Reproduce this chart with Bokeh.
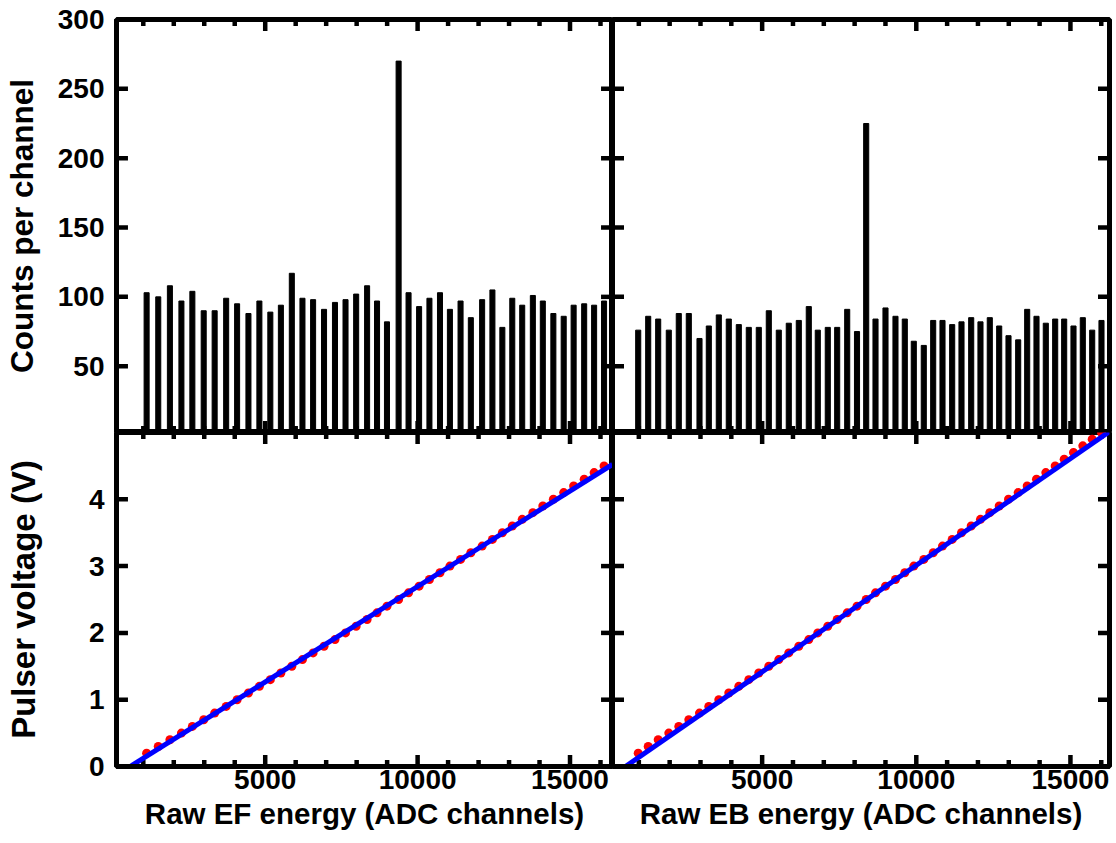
from bokeh.plotting import figure
from bokeh.models import SingleIntervalTicker, FixedTicker, Range1d
from bokeh.layouts import gridplot
from bokeh.embed import file_html
from bokeh.resources import INLINE

# ---------------- data ----------------
ef_channels = [1109, 1491, 1873, 2251, 2610, 2982, 3341, 3719, 4078, 4450,
               4809, 5168, 5514, 5873, 6222, 6571, 6930, 7289, 7635, 7984,
               8343, 8669, 8995, 9377, 9703, 10049, 10388, 10734, 11060, 11409,
               11746, 12117, 12454, 12780, 13106, 13432, 13781, 14108, 14454, 14793,
               15119, 15465, 15791, 16117]
ef_counts = [103, 100, 108, 97, 104, 90, 90, 99, 95, 88,
             97, 89, 94, 117, 99, 98, 91, 96, 98, 102,
             108, 97, 82, 270, 103, 93, 99, 103, 91, 97,
             85, 98, 105, 78, 99, 94, 101, 97, 88, 86,
             94, 95, 94, 97]
ef_voltage = [0.2, 0.3, 0.4, 0.5, 0.6, 0.7, 0.8, 0.9, 1.0, 1.1,
              1.2, 1.3, 1.4, 1.5, 1.6, 1.7, 1.8, 1.9, 2.0, 2.1,
              2.2, 2.3, 2.4, 2.5, 2.6, 2.7, 2.8, 2.9, 3.0, 3.1,
              3.2, 3.3, 3.4, 3.5, 3.6, 3.7, 3.8, 3.9, 4.0, 4.1,
              4.2, 4.3, 4.4, 4.5]

eb_channels = [980, 1304, 1628, 1972, 2296, 2621, 2968, 3270, 3594, 3918,
               4243, 4567, 4891, 5216, 5540, 5864, 6189, 6513, 6805, 7129,
               7434, 7759, 8077, 8375, 8677, 9001, 9325, 9627, 9919, 10243,
               10548, 10850, 11164, 11466, 11781, 12082, 12384, 12689, 12991, 13305,
               13597, 13899, 14201, 14505, 14797, 15099, 15401, 15706, 16007]
eb_counts = [76, 86, 84, 76, 88, 88, 70, 79, 87, 84,
             80, 78, 78, 90, 76, 81, 83, 93, 76, 78,
             78, 91, 75, 225, 84, 92, 86, 84, 68, 65,
             83, 83, 80, 82, 85, 82, 85, 79, 72, 69,
             91, 86, 81, 84, 84, 79, 85, 76, 83]
eb_voltage = [0.2, 0.3, 0.4, 0.5, 0.6, 0.7, 0.8, 0.9, 1.0, 1.1,
              1.2, 1.3, 1.4, 1.5, 1.6, 1.7, 1.8, 1.9, 2.0, 2.1,
              2.2, 2.3, 2.4, 2.5, 2.6, 2.7, 2.8, 2.9, 3.0, 3.1,
              3.2, 3.3, 3.4, 3.5, 3.6, 3.7, 3.8, 3.9, 4.0, 4.1,
              4.2, 4.3, 4.4, 4.5, 4.6, 4.7, 4.8, 4.9, 5.0]

# linear calibration fits (slope V/channel, intercept V)
ef_fit = (2.857e-4, -0.1623)
eb_fit = (3.194e-4, -0.1814)

x_label_ef = "Raw EF energy (ADC channels)"
x_label_eb = "Raw EB energy (ADC channels)"
y_label_top = "Counts per channel"
y_label_bottom = "Pulser voltage (V)"

# tick positions
x_major = [5000, 10000, 15000]
x_minor = [1000, 2000, 3000, 4000, 6000, 7000, 8000, 9000,
           11000, 12000, 13000, 14000, 16000]
top_y_labels = [50, 100, 150, 200, 250, 300]
top_y_major = [50, 100, 150, 200, 250]
bot_y_labels = [0, 1, 2, 3, 4]
bot_y_major = [1, 2, 3, 4]

# ---------------- layout / style ----------------
FONT = "Liberation Sans"
LEFT_W, RIGHT_W = 499, 497
TOP_H, BOT_H = 413, 334
ML, MR, MT, MB = 113, 7, 19, 76
MAJOR_PX, MINOR_PX, TICK_W = 11.5, 6.5, 4.5
EDGE_W = 5

EF_XR = (121, 16394)
EB_XR = (146, 16267)
TOP_YR = (2.2, 300)
BOT_YR = (0, 5.0)


def make_fig(w, h, xr, yr, ml, mr, mt, mb):
    p = figure(width=w, height=h, x_range=Range1d(*xr), y_range=Range1d(*yr),
               output_backend="svg", toolbar_location=None,
               min_border_left=ml, min_border_right=mr,
               min_border_top=mt, min_border_bottom=mb)
    p.xgrid.visible = False
    p.ygrid.visible = False
    p.outline_line_color = "black"
    p.outline_line_width = EDGE_W
    p.background_fill_color = "white"
    p.border_fill_color = "white"
    for ax in (p.xaxis[0], p.yaxis[0]):
        ax.axis_line_width = EDGE_W
        ax.axis_line_color = "black"
        ax.major_tick_in = 0
        ax.major_tick_out = 0
        ax.minor_tick_in = 0
        ax.minor_tick_out = 0
        ax.major_label_text_font = FONT
        ax.major_label_text_font_style = "bold"
        ax.major_label_text_color = "black"
        ax.major_label_text_font_size = "28px"
    return p


def title(ax, text, size, standoff):
    ax.axis_label = text
    ax.axis_label_text_font = FONT
    ax.axis_label_text_font_style = "bold"
    ax.axis_label_text_font_size = size
    ax.axis_label_text_color = "black"
    ax.axis_label_standoff = standoff


def add_ticks(p, xr, yr, fw, fh, y_major):
    """Inward ticks on all four sides as small filled rectangles whose
    size is given in screen pixels and which lie wholly inside the frame."""
    ux = (xr[1] - xr[0]) / fw      # data units per pixel, x
    uy = (yr[1] - yr[0]) / fh      # data units per pixel, y
    xs, ys, ws, hs = [], [], [], []
    for ticks, ln in ((x_major, MAJOR_PX), (x_minor, MINOR_PX)):
        for t in ticks:
            for edge, sgn in ((yr[0], 1), (yr[1], -1)):
                xs.append(t)
                ys.append(edge + sgn * (ln / 2) * uy)
                ws.append(TICK_W)
                hs.append(ln)
    for t in y_major:
        for edge, sgn in ((xr[0], 1), (xr[1], -1)):
            xs.append(edge + sgn * (MAJOR_PX / 2) * ux)
            ys.append(t)
            ws.append(MAJOR_PX)
            hs.append(TICK_W)
    p.rect(x=xs, y=ys, width=ws, height=hs, width_units="screen",
           height_units="screen", fill_color="black", line_color=None)


# ---------------- top-left: EF histogram ----------------
tl = make_fig(ML + LEFT_W, MT + TOP_H, EF_XR, TOP_YR, ML, 0, MT, 0)
tl.vbar(x=ef_channels, top=ef_counts, bottom=0, width=165, color="black")
add_ticks(tl, EF_XR, TOP_YR, LEFT_W, TOP_H, top_y_major)
tl.xaxis[0].visible = False
tl.yaxis[0].ticker = FixedTicker(ticks=top_y_labels)
tl.yaxis[0].major_label_standoff = 12
title(tl.yaxis[0], y_label_top, "31.5px", 15)

# ---------------- top-right: EB histogram ----------------
tr = make_fig(RIGHT_W + MR, MT + TOP_H, EB_XR, TOP_YR, 0, MR, MT, 0)
tr.vbar(x=eb_channels, top=eb_counts, bottom=0, width=165, color="black")
add_ticks(tr, EB_XR, TOP_YR, RIGHT_W, TOP_H, top_y_major)
tr.xaxis[0].visible = False
tr.yaxis[0].visible = False

# ---------------- bottom-left: EF calibration ----------------
bl = make_fig(ML + LEFT_W, BOT_H + MB, EF_XR, BOT_YR, ML, 0, 0, MB)
add_ticks(bl, EF_XR, BOT_YR, LEFT_W, BOT_H, bot_y_major)
bl.scatter(x=ef_channels, y=ef_voltage, size=9, color="red", line_color=None)
x0 = -ef_fit[1] / ef_fit[0]
bl.line(x=[x0, EF_XR[1]], y=[0.0, ef_fit[0] * EF_XR[1] + ef_fit[1]],
        line_color="blue", line_width=5)
bl.xaxis[0].ticker = SingleIntervalTicker(interval=5000, num_minor_ticks=0)
bl.xaxis[0].major_label_standoff = 3
title(bl.xaxis[0], x_label_ef, "29.5px", 5)
bl.yaxis[0].ticker = FixedTicker(ticks=bot_y_labels)
bl.yaxis[0].major_label_standoff = 12
title(bl.yaxis[0], y_label_bottom, "33px", 44)

# ---------------- bottom-right: EB calibration ----------------
br = make_fig(RIGHT_W + MR, BOT_H + MB, EB_XR, BOT_YR, 0, MR, 0, MB)
add_ticks(br, EB_XR, BOT_YR, RIGHT_W, BOT_H, bot_y_major)
br.scatter(x=eb_channels, y=eb_voltage, size=9, color="red", line_color=None)
x0 = -eb_fit[1] / eb_fit[0]
br.line(x=[x0, EB_XR[1]], y=[0.0, eb_fit[0] * EB_XR[1] + eb_fit[1]],
        line_color="blue", line_width=5)
br.xaxis[0].ticker = SingleIntervalTicker(interval=5000, num_minor_ticks=0)
br.xaxis[0].major_label_standoff = 3
title(br.xaxis[0], x_label_eb, "29.5px", 5)
br.yaxis[0].visible = False

grid = gridplot([[tl, tr], [bl, br]], toolbar_location=None)

open("out.html", "w").write(file_html(grid, INLINE))
